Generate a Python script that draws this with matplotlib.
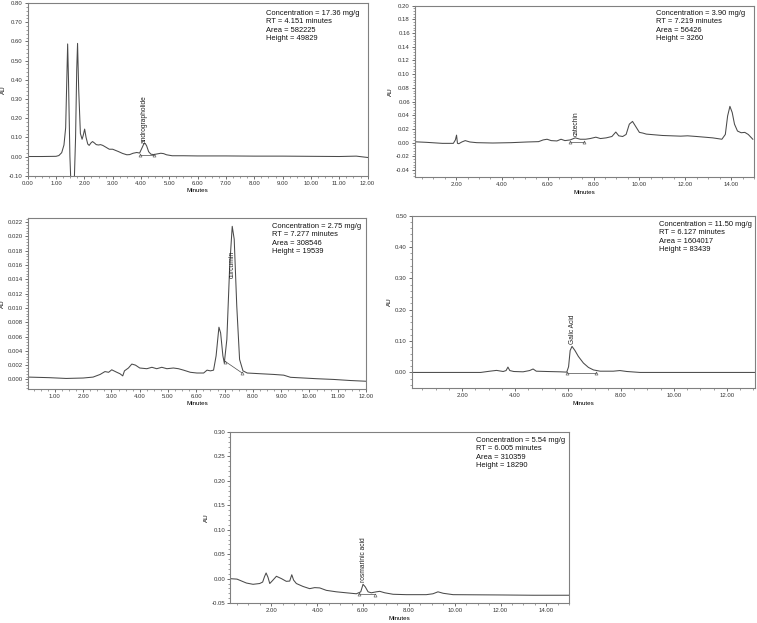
import matplotlib
matplotlib.use("Agg")
import matplotlib.pyplot as plt
from matplotlib.ticker import MultipleLocator, FormatStrFormatter

plt.rcParams['font.family'] = ['Liberation Sans', 'DejaVu Sans']

# ─── data ────────────────────────────────────────────────
# panel 1: andrographolide
t1 = [0.0, 0.5, 1.0, 1.10, 1.20, 1.28, 1.34, 1.38, 1.41, 1.44, 1.49, 1.54, 1.63, 1.69,
      1.73, 1.76, 1.80, 1.86, 1.92, 1.96, 2.01, 2.06, 2.12, 2.17, 2.24, 2.29, 2.36, 2.42,
      2.50, 2.57, 2.65, 2.72, 2.80, 2.88, 3.00, 3.10, 3.20, 3.35, 3.50, 3.60, 3.72, 3.85,
      3.95, 4.02, 4.10, 4.15, 4.20, 4.27, 4.35, 4.45, 4.55, 4.70, 4.80, 4.90, 5.10, 5.50,
      6.00, 7.00, 8.00, 9.00, 10.00, 11.00, 11.60, 12.00]
au1 = [0.000, 0.000, 0.001, 0.005, 0.020, 0.060, 0.150, 0.400, 0.587, 0.400, 0.000, -0.200,
       -0.200, 0.100, 0.450, 0.590, 0.350, 0.120, 0.090, 0.110, 0.143, 0.100, 0.065, 0.058,
       0.072, 0.078, 0.070, 0.062, 0.060, 0.062, 0.058, 0.052, 0.045, 0.038, 0.038, 0.032,
       0.026, 0.016, 0.009, 0.010, 0.017, 0.021, 0.018, 0.040, 0.066, 0.068, 0.055, 0.025,
       0.012, 0.010, 0.013, 0.017, 0.015, 0.009, 0.004, 0.004, 0.003, 0.003, 0.002, 0.002,
       0.001, 0.000, 0.002, -0.005]
mk1_t = [3.98, 4.45]
mk1_au = [0.007, 0.007]

# panel 2: catechin
t2 = [0.05, 0.70, 1.40, 1.88, 1.97, 2.02, 2.06, 2.12, 2.25, 2.40, 2.60, 2.90, 3.60, 4.40,
      5.10, 5.60, 5.80, 5.97, 6.15, 6.40, 6.58, 6.75, 6.98, 7.20, 7.42, 7.65, 7.85, 8.10,
      8.30, 8.55, 8.80, 8.97, 9.10, 9.27, 9.42, 9.56, 9.70, 9.85, 10.00, 10.15, 10.30,
      11.00, 11.80, 12.10, 12.50, 13.20, 13.60, 13.75, 13.85, 13.95, 14.05, 14.15, 14.28,
      14.44, 14.60, 14.75, 14.95]
au2 = [0.0015, 0.0005, -0.0010, -0.0010, 0.004, 0.011, -0.001, -0.0015, 0.001, 0.003,
       0.001, 0.000, -0.0005, 0.000, 0.001, 0.0015, 0.004, 0.005, 0.003, 0.0025, 0.005,
       0.003, 0.004, 0.007, 0.005, 0.005, 0.006, 0.008, 0.006, 0.007, 0.009, 0.0155, 0.010,
       0.009, 0.012, 0.027, 0.031, 0.023, 0.015, 0.014, 0.0125, 0.0105, 0.0095, 0.010,
       0.009, 0.007, 0.005, 0.012, 0.039, 0.053, 0.044, 0.027, 0.017, 0.0145, 0.015, 0.012,
       0.005]
mk2_t = [6.95, 7.57]
mk2_au = [0.001, 0.001]

# panel 3: curcumin
t3 = [0.05, 0.80, 1.40, 2.00, 2.35, 2.60, 2.77, 2.90, 3.01, 3.19, 3.30, 3.40, 3.46, 3.60,
      3.72, 3.85, 4.00, 4.25, 4.43, 4.60, 4.78, 4.96, 5.19, 5.37, 5.55, 5.79, 6.02, 6.26,
      6.38, 6.50, 6.61, 6.70, 6.80, 6.86, 6.94, 6.99, 7.08, 7.18, 7.27, 7.34, 7.43, 7.53,
      7.65, 7.80, 8.26, 8.74, 9.09, 9.33, 10.27, 10.86, 11.45, 12.00]
au3 = [0.00033, 0.00025, 0.00014, 0.0002, 0.00033, 0.0007, 0.0011, 0.0010, 0.00135, 0.0010,
       0.0008, 0.0005, 0.0012, 0.0016, 0.00215, 0.0020, 0.0016, 0.0015, 0.0017, 0.0015,
       0.0017, 0.0015, 0.0016, 0.0015, 0.0013, 0.0010, 0.0009, 0.0009, 0.0013, 0.0012,
       0.0013, 0.0033, 0.0073, 0.0065, 0.0033, 0.0023, 0.0056, 0.0158, 0.0214, 0.0196,
       0.0103, 0.0028, 0.0012, 0.0009, 0.0008, 0.0007, 0.0006, 0.0003, 0.0001, 0.0000,
       -0.00015, -0.00025]
mk3_t = [7.03, 7.62]
mk3_au = [0.0025, 0.0009]

# panel 4: gallic acid
t4 = [0.10, 2.70, 3.05, 3.30, 3.55, 3.66, 3.73, 3.80, 3.95, 4.30, 4.55, 4.68, 4.80, 5.20,
      5.70, 5.95, 6.02, 6.08, 6.15, 6.26, 6.39, 6.58, 6.77, 6.96, 7.21, 7.71, 7.96, 8.22,
      8.72, 13.05]
au4 = [0.000, 0.000, 0.004, 0.0065, 0.003, 0.006, 0.017, 0.006, 0.003, 0.002, 0.006, 0.011,
       0.004, 0.003, 0.002, 0.001, 0.018, 0.070, 0.083, 0.070, 0.051, 0.030, 0.016, 0.008,
       0.004, 0.004, 0.006, 0.003, 0.000, 0.000]
mk4_t = [5.97, 7.06]
mk4_au = [-0.002, -0.002]

# panel 5: rosmarinic acid
t5 = [0.18, 0.50, 0.91, 1.20, 1.49, 1.62, 1.70, 1.77, 1.85, 1.93, 2.05, 2.22, 2.44, 2.65,
      2.80, 2.89, 2.97, 3.09, 3.38, 3.67, 3.89, 4.11, 4.40, 4.84, 5.27, 5.71, 5.90, 6.00,
      6.10, 6.22, 6.36, 6.58, 6.73, 6.95, 7.31, 7.89, 8.76, 9.05, 9.27, 9.50, 9.93, 11.96,
      13.42, 15.00]
au5 = [0.000, -0.001, -0.009, -0.0116, -0.010, -0.007, 0.004, 0.0116, 0.003, -0.010,
       -0.004, 0.0048, 0.000, -0.0055, -0.005, 0.008, -0.003, -0.010, -0.016, -0.0205,
       -0.0184, -0.019, -0.024, -0.027, -0.029, -0.031, -0.027, -0.0116, -0.017, -0.027,
       -0.029, -0.027, -0.026, -0.029, -0.032, -0.0328, -0.0328, -0.031, -0.027, -0.030,
       -0.0328, -0.0334, -0.034, -0.034]
mk5_t = [5.83, 6.54]
mk5_au = [-0.032, -0.0325]

info = [
    ["Concentration = 17.36 mg/g", "RT = 4.151 minutes", "Area = 582225", "Height = 49829"],
    ["Concentration = 3.90 mg/g", "RT = 7.219 minutes", "Area = 56426", "Height = 3260"],
    ["Concentration = 2.75 mg/g", "RT = 7.277 minutes", "Area = 308546", "Height = 19539"],
    ["Concentration = 11.50 mg/g", "RT = 6.127 minutes", "Area = 1604017", "Height = 83439"],
    ["Concentration = 5.54 mg/g", "RT = 6.005 minutes", "Area = 310359", "Height = 18290"],
]
peak_names = ["andrographolide", "catechin", "curcumin", "Galic Acid", "rosmarinic acid"]
peak_pos = [(4.10, 0.073), (7.24, 0.0097), (7.27, 0.0142), (6.15, 0.091), (6.00, -0.007)]

# ─── layout (figure fractions) ───────────────────────────
boxes = [
    [0.0366, 0.718, 0.449, 0.277],
    [0.548, 0.716, 0.448, 0.275],
    [0.037, 0.376, 0.4465, 0.2745],
    [0.544, 0.377, 0.453, 0.277],
    [0.304, 0.032, 0.448, 0.2745],
]
xlims = [(0, 12), (0.2, 15), (0.05, 12), (0.1, 13.05), (0.2, 15)]
ylims = [(-0.10, 0.80), (-0.05, 0.20), (-0.0013, 0.0226), (-0.05, 0.50), (-0.05, 0.30)]
xmaj = [1, 2, 1, 2, 2]
ymaj = [0.10, 0.02, 0.002, 0.10, 0.05]
yfmt = ["%.2f", "%.2f", "%.3f", "%.2f", "%.2f"]
info_xy = [(0.70, 0.963), (0.711, 0.975), (0.722, 0.972), (0.72, 0.971), (0.726, 0.972)]

series = [(t1, au1, mk1_t, mk1_au), (t2, au2, mk2_t, mk2_au), (t3, au3, mk3_t, mk3_au),
          (t4, au4, mk4_t, mk4_au), (t5, au5, mk5_t, mk5_au)]

LINE = '#4a4a4a'
FRAME = '#808080'

fig = plt.figure(figsize=(7.57, 6.23), dpi=100)

for i, (t, au, mt, ma) in enumerate(series):
    ax = fig.add_axes(boxes[i])
    ax.plot(t, au, color=LINE, lw=0.75)
    # integration baseline + peak markers
    ax.plot(mt, ma, color=LINE, lw=0.5)
    ax.plot(mt, ma, ls='none', marker='^', ms=2.2, mfc='none', mec=LINE, mew=0.4)

    ax.set_xlim(*xlims[i]); ax.set_ylim(*ylims[i])
    ax.xaxis.set_major_locator(MultipleLocator(xmaj[i]))
    ax.xaxis.set_minor_locator(MultipleLocator(xmaj[i] / 4))
    ax.yaxis.set_major_locator(MultipleLocator(ymaj[i]))
    ax.yaxis.set_minor_locator(MultipleLocator(ymaj[i] / 5))
    ax.xaxis.set_major_formatter(FormatStrFormatter("%.2f"))
    ax.yaxis.set_major_formatter(FormatStrFormatter(yfmt[i]))
    ax.tick_params(which='major', length=2.5, width=0.5, labelsize=4.3,
                   colors='#333333', pad=1)
    ax.tick_params(which='minor', length=1.2, width=0.4, colors='#555555')
    for s in ax.spines.values():
        s.set_color(FRAME); s.set_linewidth(0.8)

    ax.set_xlabel("Minutes", fontsize=4.5, labelpad=2)
    ax.set_ylabel("AU", fontsize=4.5, labelpad=2)

    ax.text(info_xy[i][0], info_xy[i][1], "\n".join(info[i]), transform=ax.transAxes,
            ha='left', va='top', fontsize=5.4, linespacing=1.3, color='#111111')
    px, py = peak_pos[i]
    ax.text(px, py, peak_names[i], rotation=90, ha='center', va='bottom',
            fontsize=4.8, color='#222222')

plt.savefig("out.png", dpi=100)
